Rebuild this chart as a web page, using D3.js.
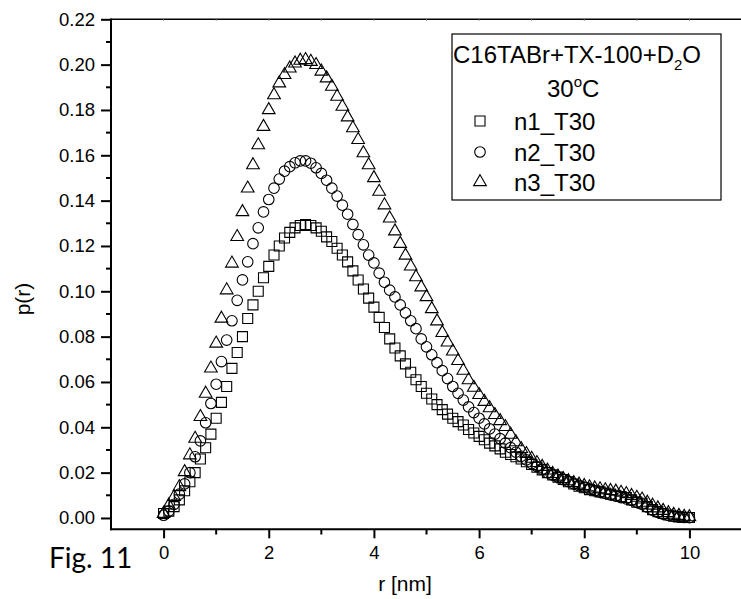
<!DOCTYPE html>
<html><head><meta charset="utf-8">
<script src="https://cdn.jsdelivr.net/npm/d3@7"></script>
<style>body{margin:0;background:#fff}svg{display:block}text{font-family:"Liberation Sans",Arial,sans-serif;fill:#000}</style>
</head><body>
<svg id="c" width="741" height="599"></svg>
<script>
const rStart = 0, rStep = 0.1;
const n1 = [0.002,0.003,0.005,0.008,0.012,0.016,0.020,0.026,0.031,0.037,
0.044,0.051,0.058,0.066,0.073,0.080,0.088,0.094,0.100,0.106,
0.111,0.116,0.120,0.1235,0.126,0.128,0.129,0.1295,0.129,0.128,
0.1265,0.124,0.122,0.119,0.116,0.113,0.109,0.105,0.101,0.097,
0.093,0.0885,0.084,0.079,0.075,0.0715,0.068,0.0643,0.061,0.058,
0.055,0.0525,0.050,0.0478,0.0458,0.044,0.0425,0.041,0.039,0.0375,
0.036,0.0345,0.033,0.0318,0.0305,0.029,0.028,0.027,0.026,0.0248,
0.0236,0.0224,0.0212,0.020,0.019,0.018,0.017,0.016,0.015,0.014,
0.0133,0.0125,0.012,0.0115,0.011,0.0105,0.010,0.0095,0.009,0.008,
0.007,0.0065,0.005,0.0037,0.0028,0.002,0.0013,0.0008,0.0005,0.0003,0.0002];
const n2 = [0.0012,0.003,0.006,0.0105,0.015,0.020,0.027,0.034,0.042,0.0505,
0.059,0.069,0.0785,0.087,0.096,0.105,0.113,0.121,0.128,0.135,
0.1405,0.1455,0.1495,0.153,0.155,0.1567,0.1575,0.1575,0.1565,0.1545,
0.152,0.149,0.1455,0.142,0.138,0.134,0.1295,0.125,0.1205,0.116,
0.1125,0.108,0.104,0.1005,0.0975,0.094,0.0905,0.087,0.0835,0.079,
0.0755,0.072,0.0685,0.065,0.0615,0.058,0.055,0.052,0.049,0.0465,
0.044,0.0415,0.0393,0.037,0.035,0.033,0.031,0.029,0.0272,0.0256,
0.024,0.0227,0.0214,0.020,0.019,0.018,0.017,0.016,0.015,0.0143,
0.0135,0.0128,0.012,0.0114,0.0108,0.0102,0.0096,0.009,0.0084,0.0078,
0.007,0.006,0.0048,0.0035,0.0025,0.0017,0.0011,0.0007,0.0004,0.0002,0.0001];
const n3 = [0.0019,0.0056,0.0093,0.0137,0.0203,0.0277,0.035,0.0446,0.0549,0.066,
0.077,0.088,0.1005,0.1123,0.124,0.135,0.1454,0.1557,0.1645,0.1726,
0.180,0.1866,0.1918,0.1955,0.1984,0.2006,0.2018,0.2021,0.2013,0.1999,
0.197,0.194,0.1903,0.1859,0.1815,0.1768,0.172,0.1668,0.161,0.1557,
0.150,0.144,0.138,0.1322,0.1265,0.121,0.1158,0.111,0.1063,0.1018,
0.0975,0.0922,0.0868,0.0817,0.0775,0.0735,0.0693,0.065,0.0608,0.0575,
0.0543,0.0513,0.0485,0.0455,0.0428,0.0402,0.0368,0.0335,0.0305,0.0283,
0.0262,0.0243,0.0226,0.021,0.0195,0.0183,0.0172,0.0163,0.0155,0.0148,
0.0142,0.0136,0.0131,0.0127,0.0123,0.012,0.0117,0.0112,0.0106,0.0098,
0.009,0.0082,0.0068,0.0055,0.0043,0.0032,0.0022,0.0015,0.001,0.0006,0.0004];
const seriesNames = ["n1_T30","n2_T30","n3_T30"];
const xTicks = [0,2,4,6,8,10];
const xMinor = [1,3,5,7,9];
const yTicks = [0,0.02,0.04,0.06,0.08,0.10,0.12,0.14,0.16,0.18,0.20,0.22];
const yMinor = [0.01,0.03,0.05,0.07,0.09,0.11,0.13,0.15,0.17,0.19,0.21];
const topTicks = [0,1,2,3,4,5,6,7,8,9,10];

const svg = d3.select("#c");
const x = d3.scaleLinear().domain([-1, 11]).range([111, 742]);
const y = d3.scaleLinear().domain([-0.005, 0.22]).range([529.3, 19.3]);

// top frame line
svg.append("line").attr("x1",111).attr("x2",741).attr("y1",y(0.22)).attr("y2",y(0.22)).attr("stroke","#000").attr("stroke-width",1.6);
svg.selectAll(".tt").data(topTicks).enter().append("line")
  .attr("x1",d=>x(d)).attr("x2",d=>x(d)).attr("y1",y(0.22)).attr("y2",y(0.22)+1.5)
  .attr("stroke","#888").attr("stroke-width",1);

// left axis
const yAxis = d3.axisLeft(y).tickValues(yTicks).tickFormat(d3.format(".2f")).tickSize(10).tickPadding(6);
const gy = svg.append("g").attr("transform","translate(111,0)").call(yAxis);
gy.select(".domain").remove();
gy.selectAll(".tick line").attr("stroke-width",2);
gy.selectAll(".tick text").style("font-size","18.5px").style("font-family","Liberation Sans, Arial, sans-serif");
svg.selectAll(".ym").data(yMinor).enter().append("line")
  .attr("x1",106).attr("x2",111).attr("y1",d=>y(d)).attr("y2",d=>y(d)).attr("stroke","#000").attr("stroke-width",2);
svg.append("line").attr("x1",111).attr("x2",111).attr("y1",y(0.22)-0.8).attr("y2",530.3).attr("stroke","#000").attr("stroke-width",2);

// bottom axis
const xAxis = d3.axisBottom(x).tickValues(xTicks).tickFormat(d3.format("d")).tickSize(9).tickPadding(8);
const gx = svg.append("g").attr("transform","translate(0,529.3)").call(xAxis);
gx.select(".domain").remove();
gx.selectAll(".tick line").attr("stroke-width",2);
gx.selectAll(".tick text").style("font-size","18.5px").style("font-family","Liberation Sans, Arial, sans-serif");
svg.selectAll(".xm").data(xMinor).enter().append("line")
  .attr("x1",d=>x(d)).attr("x2",d=>x(d)).attr("y1",529.3).attr("y2",534.5).attr("stroke","#000").attr("stroke-width",2);
svg.append("line").attr("x1",110).attr("x2",741).attr("y1",529.3).attr("y2",529.3).attr("stroke","#000").attr("stroke-width",2);

// titles
svg.append("text").attr("x",405).attr("y",591).attr("text-anchor","middle").style("font-size","21px").text("r [nm]");
svg.append("text").attr("transform","translate(30,299) rotate(-90)").attr("text-anchor","middle").style("font-size","21px").text("p(r)");
svg.append("text").attr("x",49).attr("y",568).style("font-family","Lato, 'Open Sans', sans-serif").style("font-size","28px").text("Fig. 11");

// data
const types = [d3.symbolSquare, d3.symbolCircle, d3.symbolTriangle];
const sizes = [100, 88, 70];
const data = [n1, n2, n3];
data.forEach((arr, i) => {
  const sym = d3.symbol().type(types[i]).size(sizes[i]);
  svg.append("g").selectAll("path").data(arr).enter().append("path")
    .attr("d", sym)
    .attr("transform", (d, j) => `translate(${x(rStart + j*rStep)},${y(d)})`)
    .attr("fill","none").attr("stroke","#000").attr("stroke-width",1.1);
});

// legend
const lg = svg.append("g");
lg.append("rect").attr("x",452).attr("y",34).attr("width",269).attr("height",166).attr("fill","#fff").attr("stroke","#000").attr("stroke-width",1.2);
const t1 = lg.append("text").attr("x",453).attr("y",63).style("font-size","24px");
t1.append("tspan").text("C16TABr+TX-100+D");
t1.append("tspan").attr("dy",7).style("font-size","15px").text("2");
t1.append("tspan").attr("dy",-7).text("O");
const t2 = lg.append("text").attr("x",547).attr("y",97).style("font-size","24px");
t2.append("tspan").text("30");
t2.append("tspan").attr("dy",-10).style("font-size","15px").text("o");
t2.append("tspan").attr("dy",10).text("C");
const rowsY = [121, 152, 182];
seriesNames.forEach((nm, i) => {
  const sym = d3.symbol().type(types[i]).size(sizes[i]);
  lg.append("path").attr("d", sym).attr("transform",`translate(480,${rowsY[i]})`).attr("fill","none").attr("stroke","#000").attr("stroke-width",1.1);
  lg.append("text").attr("x",514).attr("y",rowsY[i]+9).style("font-size","24px").text(nm);
});
</script>
</body></html>
